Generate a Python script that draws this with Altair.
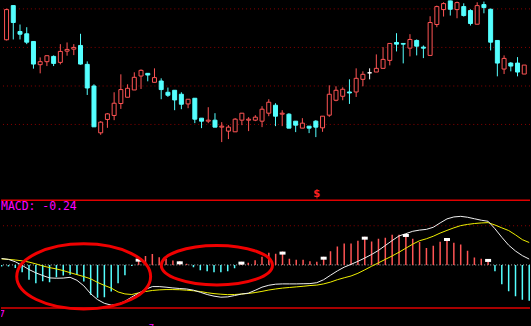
import altair as alt
import pandas as pd

# ---------------- data ----------------
idx = list(range(78))
open_ = [26.07, 29.50, 26.90, 26.67, 25.90, 23.57, 23.87, 24.40, 23.80, 24.93,
         25.13, 25.50, 23.60, 21.43, 16.73, 18.07, 18.47, 19.67, 20.30, 21.03,
         22.43, 22.70, 21.80, 21.93, 20.80, 21.00, 20.60, 19.63, 20.20, 18.20,
         17.90, 18.00, 17.30, 16.90, 16.83, 18.00, 18.00, 18.00, 17.90, 18.70,
         19.50, 18.60, 18.60, 17.90, 17.20, 17.40, 17.90, 17.23, 18.50, 20.00,
         20.40, 20.83, 20.83, 22.10, 22.75, 22.83, 23.20, 24.00, 25.80, 25.70,
         25.23, 26.00, 25.33, 24.50, 27.60, 29.10, 30.00, 29.10, 29.40, 29.00,
         27.63, 29.60, 29.13, 26.00, 23.13, 23.73, 23.73, 22.63]
high = [29.20, 29.50, 27.60, 27.33, 25.90, 24.30, 24.47, 24.50, 25.63, 25.80,
        25.63, 26.67, 23.90, 21.60, 17.90, 18.70, 20.80, 22.60, 21.60, 22.80,
        23.10, 22.70, 23.20, 22.20, 21.27, 21.00, 20.80, 20.10, 20.20, 18.20,
        19.30, 18.70, 17.80, 17.50, 18.20, 18.70, 18.30, 18.50, 19.40, 20.10,
        19.70, 19.00, 18.70, 17.90, 18.20, 17.40, 18.00, 18.40, 21.50, 21.40,
        21.30, 22.10, 23.20, 22.90, 23.20, 24.60, 25.33, 25.70, 26.73, 25.70,
        26.63, 26.10, 25.50, 28.43, 29.50, 29.83, 30.05, 29.90, 29.73, 29.13,
        29.83, 29.90, 29.20, 26.00, 24.50, 23.83, 24.33, 23.53]
low = [26.00, 26.10, 26.10, 25.63, 23.17, 22.70, 23.43, 23.43, 23.60, 24.47,
       24.53, 23.57, 20.53, 17.33, 16.53, 17.23, 18.00, 19.13, 20.30, 21.03,
       21.13, 21.90, 21.80, 20.10, 20.33, 19.00, 19.10, 19.20, 17.70, 17.20,
       17.70, 17.30, 15.80, 16.10, 16.83, 17.50, 16.90, 17.90, 17.30, 18.40,
       17.40, 17.40, 17.20, 16.80, 17.20, 16.70, 16.30, 16.83, 18.33, 19.90,
       20.00, 19.63, 20.33, 21.40, 22.10, 22.83, 23.20, 23.50, 24.90, 23.70,
       24.40, 24.50, 24.23, 24.50, 27.33, 28.40, 28.50, 28.23, 28.40, 27.50,
       27.63, 28.73, 25.00, 22.40, 22.63, 22.90, 22.40, 22.63]
close = [29.10, 27.80, 26.63, 25.83, 23.63, 23.87, 24.47, 23.70, 24.90, 25.10,
         25.30, 23.63, 21.23, 17.33, 17.80, 18.63, 19.70, 21.07, 21.20, 22.30,
         23.00, 22.53, 22.27, 21.07, 20.50, 20.03, 19.60, 20.10, 18.10, 17.90,
         18.00, 17.30, 17.40, 17.30, 18.10, 18.70, 18.10, 18.30, 19.10, 19.80,
         18.40, 18.70, 17.20, 17.50, 17.70, 17.20, 17.30, 18.40, 20.60, 21.00,
         21.10, 20.73, 22.20, 22.60, 22.75, 23.20, 24.10, 25.70, 25.63, 25.63,
         26.10, 25.43, 25.23, 27.80, 29.40, 29.70, 29.13, 29.80, 28.50, 27.70,
         29.50, 29.30, 25.83, 23.73, 24.20, 23.43, 22.83, 23.53]

macd_hist = [-0.010, -0.010, -0.020, -0.049, -0.100, -0.123, -0.109, -0.116, -0.083, -0.071,
             -0.065, -0.067, -0.111, -0.200, -0.220, -0.216, -0.178, -0.123, -0.069, -0.007,
             0.042, 0.060, 0.073, 0.051, 0.042, 0.029, 0.024, 0.007, -0.016, -0.036,
             -0.043, -0.049, -0.049, -0.043, -0.023, 0.022, 0.015, 0.031, 0.055, 0.082,
             0.075, 0.089, 0.042, 0.035, 0.035, 0.024, 0.022, 0.055, 0.091, 0.124,
             0.144, 0.144, 0.162, 0.189, 0.157, 0.175, 0.182, 0.202, 0.202, 0.207,
             0.175, 0.153, 0.113, 0.129, 0.155, 0.180, 0.149, 0.137, 0.095, 0.049,
             0.042, 0.040, -0.043, -0.129, -0.176, -0.209, -0.233, -0.240]
dif = [0.043, 0.037, 0.021, -0.003, -0.031, -0.053, -0.071, -0.087, -0.089, -0.088,
       -0.083, -0.103, -0.140, -0.193, -0.232, -0.257, -0.269, -0.263, -0.243, -0.215,
       -0.189, -0.164, -0.145, -0.145, -0.149, -0.154, -0.158, -0.161, -0.169, -0.183,
       -0.198, -0.209, -0.216, -0.214, -0.205, -0.195, -0.189, -0.170, -0.149, -0.136,
       -0.129, -0.127, -0.127, -0.127, -0.126, -0.125, -0.119, -0.099, -0.069, -0.040,
       -0.015, 0.004, 0.024, 0.046, 0.070, 0.097, 0.130, 0.163, 0.194, 0.209,
       0.225, 0.233, 0.238, 0.252, 0.281, 0.308, 0.321, 0.325, 0.319, 0.309,
       0.299, 0.292, 0.242, 0.185, 0.132, 0.093, 0.062, 0.039]
dea = [0.040, 0.037, 0.033, 0.027, 0.019, 0.007, -0.007, -0.018, -0.027, -0.038,
       -0.052, -0.065, -0.078, -0.093, -0.117, -0.137, -0.155, -0.181, -0.194, -0.198,
       -0.187, -0.178, -0.171, -0.167, -0.165, -0.165, -0.166, -0.169, -0.173, -0.178,
       -0.186, -0.192, -0.196, -0.199, -0.198, -0.195, -0.191, -0.185, -0.177, -0.168,
       -0.161, -0.155, -0.151, -0.147, -0.143, -0.138, -0.135, -0.127, -0.115, -0.099,
       -0.086, -0.074, -0.056, -0.033, -0.009, 0.014, 0.037, 0.060, 0.085, 0.112,
       0.139, 0.162, 0.175, 0.192, 0.213, 0.231, 0.248, 0.263, 0.271, 0.277,
       0.281, 0.283, 0.267, 0.248, 0.230, 0.201, 0.169, 0.150]

marker_bars = [20, 26, 35, 41, 47, 53, 59, 65, 71]
price_grid = [29.17, 25.30, 21.43, 17.57]
macd_frame = [0.432, -0.289]
macd_dotted = [0.262]
macd_zero = [0.0]
ellipse_x = [11.98, 31.42]
ellipse_y = [-0.077, -0.002]

# ---------------- tables ----------------
candles = pd.DataFrame({"i": idx, "o": open_, "h": high, "l": low, "c": close})
candles["dir"] = ["up" if c > o else ("down" if c < o else "flat")
                  for o, c in zip(open_, close)]
macd = pd.DataFrame({"i": idx, "hist": macd_hist, "dif": dif, "dea": dea})
macd["sign"] = ["pos" if v >= 0 else "neg" for v in macd_hist]
marks = macd[macd["i"].isin(marker_bars)]

RED = "#FF5454"
CYAN = "#54FFFF"
XS = alt.Scale(domain=[-0.087, 77.115], nice=False, zero=False)
PS = alt.Scale(domain=[10.1, 30.0], nice=False, zero=False)
MS = alt.Scale(domain=[-0.4113, 0.4353], nice=False, zero=False)
X = alt.X("i:Q", scale=XS, axis=None)
dir_dom = ["up", "down", "flat"]
stroke_sc = alt.Scale(domain=dir_dom, range=[RED, CYAN, "#FFFFFF"])
fill_sc = alt.Scale(domain=dir_dom, range=["#000000", CYAN, "#FFFFFF"])

# ---------------- top: candlesticks ----------------
grid = alt.Chart(pd.DataFrame({"p": price_grid})).mark_rule(
    color="#8B0000", strokeWidth=1, strokeDash=[1, 3]
).encode(y=alt.Y("p:Q", scale=PS, axis=None))

base = alt.Chart(candles)
wicks = base.mark_rule(strokeWidth=1, clip=True).encode(
    x=X,
    y=alt.Y("l:Q", scale=PS, axis=None),
    y2="h:Q",
    color=alt.Color("dir:N", scale=stroke_sc, legend=None),
)
bodies = base.mark_bar(size=4, strokeWidth=1, clip=True).encode(
    x=X,
    y=alt.Y("o:Q", scale=PS, axis=None),
    y2="c:Q",
    fill=alt.Fill("dir:N", scale=fill_sc, legend=None),
    stroke=alt.Stroke("dir:N", scale=stroke_sc, legend=None),
)
dollar = alt.Chart(pd.DataFrame({"t": ["$"]})).mark_text(
    color="#FF2020", fontSize=10, fontWeight="bold", font="DejaVu Sans",
    align="center", baseline="middle", clip=True
).encode(x=alt.value(317), y=alt.value(194), text="t:N")

top = alt.layer(grid, wicks, bodies, dollar).properties(width=531, height=199)

# ---------------- bottom: MACD ----------------
frame = alt.Chart(pd.DataFrame({"v": macd_frame})).mark_rule(
    color="#E00000", strokeWidth=1.5
).encode(y=alt.Y("v:Q", scale=MS, axis=None))
dotted = alt.Chart(pd.DataFrame({"v": macd_dotted})).mark_rule(
    color="#8B0000", strokeWidth=1, strokeDash=[1, 3]
).encode(y=alt.Y("v:Q", scale=MS, axis=None))
zero = alt.Chart(pd.DataFrame({"v": macd_zero})).mark_rule(
    color="#B0B0B0", strokeWidth=1, strokeDash=[1, 2]
).encode(y=alt.Y("v:Q", scale=MS, axis=None))

mb = alt.Chart(macd)
bars = mb.mark_rule(strokeWidth=1.5, clip=True).encode(
    x=X,
    y=alt.Y("hist:Q", scale=MS, axis=None),
    y2=alt.datum(0),
    color=alt.Color("sign:N", scale=alt.Scale(domain=["pos", "neg"], range=[RED, CYAN]),
                    legend=None),
)
dea_line = mb.mark_line(color="#F0F000", strokeWidth=1, clip=True).encode(
    x=X, y=alt.Y("dea:Q", scale=MS, axis=None))
dif_line = mb.mark_line(color="#F0F0F0", strokeWidth=1, clip=True).encode(
    x=X, y=alt.Y("dif:Q", scale=MS, axis=None))
squares = alt.Chart(marks).mark_point(
    shape="M-1,-0.5H1V0.5H-1Z", size=36, filled=True, fill="#FFFFFF",
    strokeWidth=0, opacity=1, yOffset=1.5
).encode(x=X, y=alt.Y("hist:Q", scale=MS, axis=None))

ell = pd.DataFrame({"i": ellipse_x, "m": ellipse_y})
ell1 = alt.Chart(ell.iloc[[0]]).mark_point(
    shape="M-1,0A1,0.487,0,1,1,1,0A1,0.487,0,1,1,-1,0Z", size=18063,
    filled=False, stroke="#F00000", strokeWidth=3, opacity=1
).encode(x=X, y=alt.Y("m:Q", scale=MS, axis=None))
ell2 = alt.Chart(ell.iloc[[1]]).mark_point(
    shape="M-1,0A1,0.356,0,1,1,1,0A1,0.356,0,1,1,-1,0Z", size=12455,
    filled=False, stroke="#F00000", strokeWidth=3, opacity=1
).encode(x=X, y=alt.Y("m:Q", scale=MS, axis=None))

title_txt = alt.Chart(pd.DataFrame({"t": ["MACD: -0.24"]})).mark_text(
    color="#FF00FF", fontSize=11.5, font="DejaVu Sans Mono", align="left",
    baseline="alphabetic", clip=True
).encode(x=alt.value(0), y=alt.value(10.5), text="t:N")
seven = alt.Chart(pd.DataFrame({"t": ["7"]})).mark_text(
    color="#FF00FF", fontSize=9, font="DejaVu Sans", align="right",
    baseline="alphabetic", clip=True
).encode(x=alt.value(4), y=alt.value(118), text="t:N")
bottom_txt = alt.Chart(pd.DataFrame({"t": ["7"]})).mark_text(
    color="#FF00FF", fontSize=9, font="DejaVu Sans", align="center",
    baseline="top", clip=True
).encode(x=alt.value(151), y=alt.value(125), text="t:N")

bottom = alt.layer(
    dotted, zero, bars, dea_line, dif_line, squares, frame, ell1, ell2,
    title_txt, seven, bottom_txt
).properties(width=531, height=127)

chart = alt.vconcat(top, bottom, spacing=0).properties(
    padding=0, background="#000000"
).configure_view(strokeWidth=0, fill="#000000")

chart.save("out.html", embed_options={"renderer": "svg", "actions": False})
